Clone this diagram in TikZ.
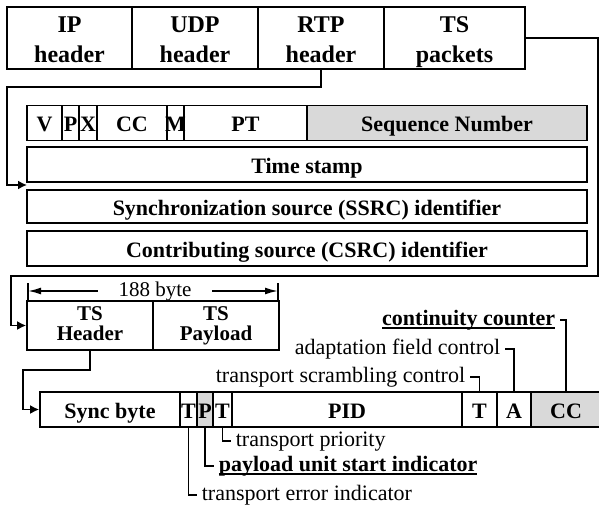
\documentclass[tikz,border=0pt]{standalone}
\usepackage{fontspec}
\setmainfont{Liberation Serif}
\usepackage{tikz}
\usetikzlibrary{arrows.meta}
\definecolor{FieldGray}{HTML}{D9D9D9}
\newsavebox{\undlbox}
\newcommand{\undl}[1]{\sbox\undlbox{#1}\rlap{\rule[-3.5pt]{\wd\undlbox}{1.4pt}}\usebox\undlbox}

\begin{document}
\begin{tikzpicture}[x=1pt,y=-1pt,line width=1.7pt,>={Latex[length=9pt,width=9pt]},
 pkt/.style={draw,inner sep=0pt,minimum height=62pt,align=center,
 text height=50pt,text depth=0pt,font=\fontsize{24}{30}\selectfont\bfseries},
 cell/.style={draw,inner sep=0pt,minimum height=35pt,
 text height=19pt,text depth=2pt,font=\fontsize{22}{22}\selectfont\bfseries},
 tsbox/.style={draw,inner sep=0pt,minimum width=126pt,minimum height=49pt,align=center,
 text height=30pt,text depth=1pt,font=\fontsize{21}{19.5}\selectfont\bfseries},
 tag/.style={inner xsep=4pt,inner ysep=0pt,text height=11pt,text depth=1pt,
 font=\fontsize{22}{22}\selectfont}]
 \useasboundingbox (0,0) rectangle (599,508);
 % IP packet
 \node[pkt,minimum width=125pt] (ip) at (69.5,38) {IP\\header};
 \node[pkt,minimum width=126pt] (udp) at (195,38) {UDP\\header};
 \node[pkt,minimum width=126pt] (rtp) at (321,38) {RTP\\header};
 \node[pkt,minimum width=141pt] (tsp) at (454.5,38) {TS\\packets};
 % RTP header fields
 \node[cell,minimum width=35pt] (rtpv) at (44.5,123) {V};
 \node[cell,minimum width=17pt] (rtpp) at (70.5,123) {P};
 \node[cell,minimum width=18pt] (rtpx) at (88,123) {\makebox[0pt]{X}};
 \node[cell,minimum width=70pt] (rtpcc) at (132,123) {CC};
 \node[cell,minimum width=17pt] (rtpm) at (175.5,123) {\makebox[0pt]{M}};
 \node[cell,minimum width=123pt] (rtppt) at (245.5,123) {PT};
 \node[cell,minimum width=280pt,fill=FieldGray] (rtpseq) at (447,123) {Sequence Number};
 \node[cell,minimum width=560pt] (tstamp) at (307,164.5) {Time stamp};
 \node[cell,minimum width=560pt,minimum height=33pt] (ssrc) at (307,206.5) {Synchronization source (SSRC) identifier};
 \node[cell,minimum width=560pt] (csrc) at (307,248.5) {Contributing source (CSRC) identifier};
 % TS packet
 \node[tsbox] (tshdr) at (90,325.5) {TS\\Header};
 \node[tsbox] (tspay) at (216,325.5) {TS\\Payload};
 \node[tag,inner xsep=20pt,font=\fontsize{21}{21}\selectfont] (bytelen) at (155,291) {188 byte};
 \coordinate (lenl) at (28,291);
 \coordinate (lenr) at (278,291);
 \draw[-{Latex[length=13pt,width=7pt]}] (bytelen.west) -- (lenl);
 \draw[-{Latex[length=13pt,width=7pt]}] (bytelen.east) -- (lenr);
 \draw (28,283) -- (28,300);
 \draw (278,283) -- (278,300);
 % TS header fields
 \node[cell,minimum width=140pt] (sync) at (110,409.5) {Sync byte};
 \node[cell,minimum width=17pt] (tei) at (188.5,409.5) {T};
 \node[cell,minimum width=16pt,fill=FieldGray] (pusi) at (205,409.5) {P};
 \node[cell,minimum width=19pt] (tpri) at (222.5,409.5) {T};
 \node[cell,minimum width=230pt] (pid) at (347,409.5) {PID};
 \node[cell,minimum width=35pt] (tsc) at (479.5,409.5) {T};
 \node[cell,minimum width=34pt] (afc) at (514,409.5) {A};
 \node[cell,minimum width=70pt,fill=FieldGray] (ccnt) at (566,409.5) {CC};
 \node[tag,anchor=east] (ccntl) at (560,320) {\bfseries\undl{continuity counter}};
 \node[tag,anchor=east] (afcl) at (505,349) {adaptation field control};
 \node[tag,anchor=east] (tscl) at (470,377) {transport scrambling control};
 \node[tag,anchor=west] (tpril) at (231,441) {transport priority};
 \node[tag,anchor=west] (pusil) at (214,466) {\bfseries\undl{payload unit start indicator}};
 \node[tag,anchor=west] (teil) at (197,495) {transport error indicator};
 \draw (ccntl.east) -| (ccnt.north);
 \draw (afcl.east) -| (afc.north);
 \draw (tscl.east) -| (tsc.north);
 \draw (tpri.south) |- (tpril.west);
 \draw (pusi.south) |- (pusil.west);
 \draw (tei.south) |- (teil.west);
 % connectors
 \coordinate (rtpbend) at (7,87);
 \coordinate (rtpin) at (27,185);
 \draw[->] (rtp.south) |- (rtpbend) |- (rtpin);
 \coordinate (tsturn) at (598,276);
 \coordinate (tsleft) at (11,276);
 \draw[->] (tsp.east) -| (tsturn) -- (tsleft) |- (tshdr.west);
 \coordinate (hdrbend) at (23,370);
 \draw[->] (tshdr.south) |- (hdrbend) |- (sync.west);
\end{tikzpicture}
\end{document}
